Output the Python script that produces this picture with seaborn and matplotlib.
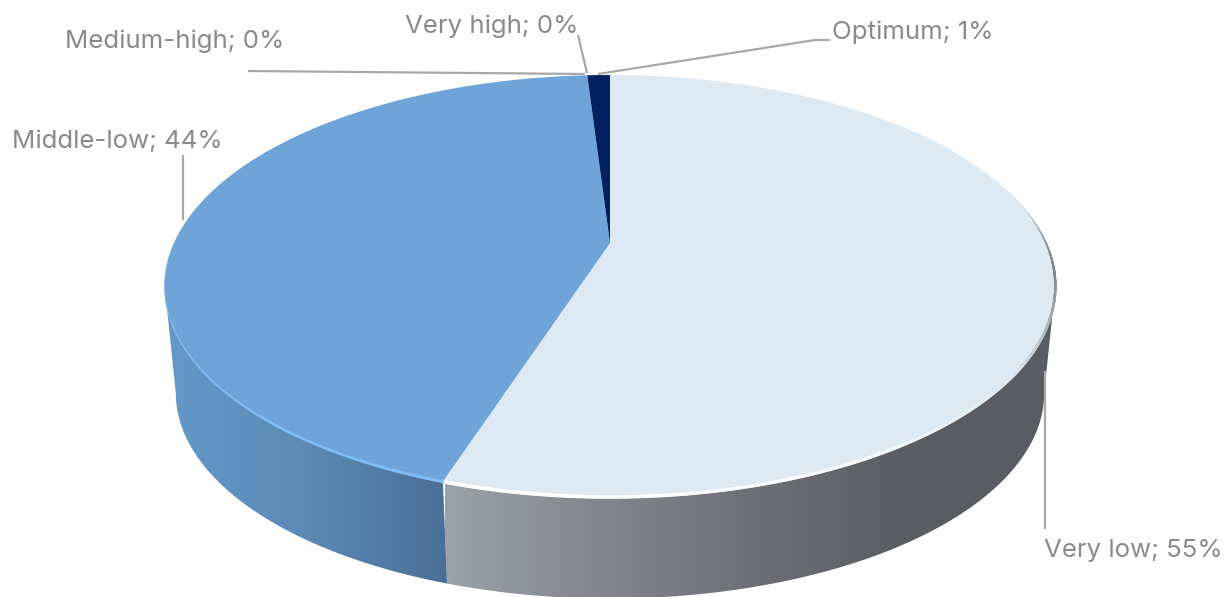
import numpy as np
import matplotlib
matplotlib.use("Agg")
import matplotlib.pyplot as plt
import seaborn as sns
from matplotlib.collections import LineCollection
from matplotlib.colors import ListedColormap
from matplotlib.patches import Polygon
from matplotlib.path import Path
from matplotlib.transforms import Transform

names = ["Very low", "Middle-low", "Medium-high", "Very high", "Optimum"]
shares = [55, 44, 0, 0, 1]
face_colors = ["#dde9f3", "#6ea4d7", "#2e75b6", "#1f4e79", "#002060"]

sns.set_theme(style="white")
plt.rcParams["font.family"] = ["Inter", "DejaVu Sans"]

text_color = "#8a8a8a"
line_color = "#a8a8a8"

# label anchors and leader lines, in pixels of the picture
label_xy = [(1044, 550), (12, 141), (65, 41), (405, 26), (832, 32)]
leaders = [
    [(1045, 371), (1045, 529)],
    [(183, 155), (183, 220)],
    [(248, 71), (585, 74)],
    [(578, 35), (587, 73)],
    [(598, 74), (815, 40), (830, 40)],
]


# perspective of the disc: unit circle -> picture pixels
CX, CY = 610.0, 243.0
K, A, C = 436.0, -152.7, 0.2038
VY, WALL = 4560.0, 0.975


def project(u, v):
    d = 1 + C * v
    return CX + K * u / d, (A * v + CY) / d


def lower(x, y):
    return CX + (x - CX) * WALL, VY + (y - VY) * WALL


class Perspective(Transform):
    input_dims = output_dims = 2
    is_affine = False
    has_inverse = False

    def transform_non_affine(self, values):
        x, y = project(values[:, 0], values[:, 1])
        return np.column_stack([x, y])

    def transform_path_non_affine(self, path):
        # flatten first, bezier control points do not survive the projection
        t = np.linspace(0, 1, 24)
        pts = np.vstack([seg(t) for seg, _ in path.iter_bezier()])
        return Path(self.transform_non_affine(pts), closed=False)


def rim(t1, t2, n=200):
    t = np.radians(np.linspace(t1, t2, n))
    return project(np.cos(t), np.sin(t))


fig = plt.figure(figsize=(12.3, 5.97), dpi=100)
ax = fig.add_axes([0, 0, 1, 1])
wedges, _ = ax.pie(shares, colors=face_colors, startangle=90, counterclock=False,
                   wedgeprops={"linewidth": 0})
ax.set_aspect("auto")
ax.set_xlim(0, 1230)
ax.set_ylim(597, 0)

persp = Perspective() + ax.transData
for w in wedges:
    w.set_transform(persp)
    w.set_zorder(5)

# matplotlib angles: silhouette of the disc sits at sin = -C
edge = np.degrees(np.arcsin(C))
right_end = 360 - edge
left_end = 180 + edge
# front walls, split where the slices split
split = wedges[0].theta1 % 360


def wall(t1, t2, stops, x0, x1):
    x, y = rim(t1, t2)
    xb, yb = lower(x, y)
    pts = np.column_stack([np.r_[x, xb[::-1]], np.r_[y, yb[::-1]]])
    clip = Polygon(pts, closed=True, transform=ax.transData, facecolor="none", edgecolor="none")
    ax.add_patch(clip)
    cmap = ListedColormap(sns.blend_palette(stops, 256))
    grad = np.linspace(0, 1, 256).reshape(1, -1)
    im = ax.imshow(grad, cmap=cmap, extent=[x0, x1, 597, 0], aspect="auto", zorder=2)
    im.set_clip_path(clip)


wall(split, right_end, ["#9ca2a8", "#83868d", "#6e7076", "#5a5d61", "#595c60"], 445, 1056)
wall(left_end, split, ["#6399c9", "#5a8ab5", "#4a6f96"], 165, 449)
ax.set_xlim(0, 1230)
ax.set_ylim(597, 0)


def bevel(t1, t2, stops, lw):
    x, y = rim(t1, t2, 300)
    pts = np.column_stack([x, y])
    segs = np.stack([pts[:-1], pts[1:]], axis=1)
    cols = sns.blend_palette(stops, len(segs))
    widths = np.linspace(lw[0], lw[1], len(segs))
    ax.add_collection(LineCollection(segs, colors=cols, linewidths=widths, zorder=6, capstyle="round"))


# light rim on the top edge, as in the bevelled original
bevel(split, 325, ["#ffffff", "#fbfdff", "#f4f8fb", "#dfe8ef"], (2.6, 2.2))
bevel(325, 352, ["#dfe8ef", "#aeb6bd", "#7f868c"], (2.2, 1.6))
bevel(352, 376, ["#7f868c", "#8b949c", "#b9c6d1", "#dde9f3"], (1.6, 0.1))
bevel(left_end - 14, split, ["#6ea4d7", "#7fbcf5", "#80bff7", "#7fbcf5"], (0.1, 2.2))

for name, share, (lx, ly), path in zip(names, shares, label_xy, leaders):
    xs, ys = zip(*path)
    ax.plot(xs, ys, color=line_color, lw=1.6, zorder=7, solid_capstyle="butt")
    ax.text(lx, ly, f"{name}; {share}%", color=text_color, fontsize=18.6,
            ha="left", va="center", zorder=8)

fig.savefig("out.png", dpi=100)
